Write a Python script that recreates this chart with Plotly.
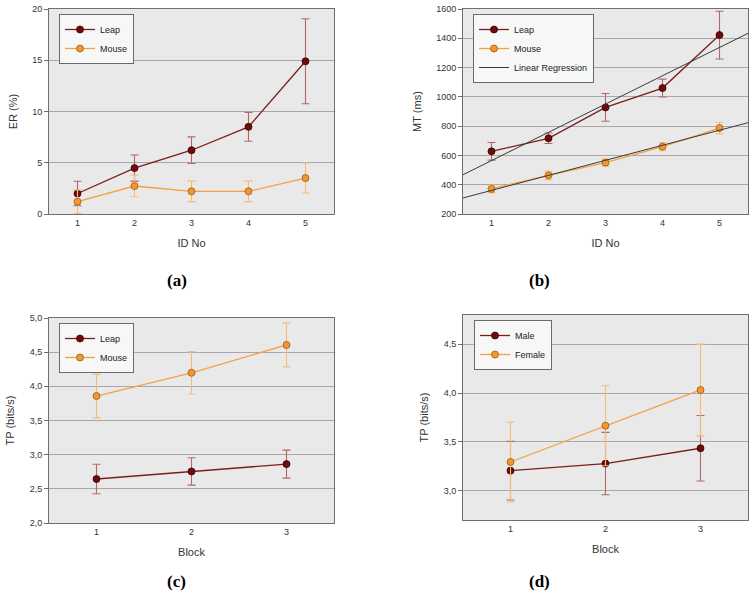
import numpy as np
import plotly.graph_objects as go

# ---------------- data ----------------
id_no = [1, 2, 3, 4, 5]
er_leap = [2.0, 4.48, 6.22, 8.5, 14.9]
er_leap_err = [1.2, 1.27, 1.3, 1.4, 4.15]
er_mouse = [1.2, 2.73, 2.21, 2.21, 3.51]
er_mouse_err = [1.15, 1.05, 1.0, 1.0, 1.46]

mt_leap = [628, 717, 928, 1060, 1422]
mt_leap_err = [60, 36, 95, 61, 163]
mt_mouse = [371, 464, 551, 660, 787]
mt_mouse_err = [25, 30, 25, 28, 40]

block = [1, 2, 3]
tp_leap = [2.644, 2.754, 2.862]
tp_leap_err = [0.215, 0.2, 0.205]
tp_mouse = [3.858, 4.198, 4.605]
tp_mouse_err = [0.32, 0.31, 0.32]

tp_male = [3.205, 3.278, 3.435]
tp_male_err = [0.30, 0.32, 0.335]
tp_female = [3.294, 3.666, 4.032]
tp_female_err = [0.41, 0.41, 0.47]

panel_labels = ["(a)", "(b)", "(c)", "(d)"]

# ---------------- style ----------------
DARK = "#6e0b0b"
DARK_LINE = "#7a1e1e"
DARK_ERR = "#b06868"
ORANGE = "#f3962e"
ORANGE_LINE = "#f4a040"
ORANGE_ERR = "#f6bb78"
ORANGE_EDGE = "#9a5a1a"
BG = "#e9e9e9"
GRID = "#a8a8a8"
BORDER = "#6e6e6e"
FONT = "Liberation Sans, Arial, sans-serif"

fig = go.Figure()


def series(x, y, err, name, color, line_color, err_color, edge, xa, ya, legend, showlegend=True):
    fig.add_trace(go.Scatter(
        x=x, y=y, name=name, mode="lines+markers",
        line=dict(color=line_color, width=1.3),
        marker=dict(color=color, size=7, line=dict(color=edge, width=0.8)),
        error_y=dict(type="data", array=err, visible=True, color=err_color,
                     thickness=1.1, width=4),
        xaxis=xa, yaxis=ya, legend=legend, showlegend=showlegend,
    ))


# (a)
series(id_no, er_leap, er_leap_err, "Leap", DARK, DARK_LINE, DARK_ERR, "#3a0000", "x", "y", "legend")
series(id_no, er_mouse, er_mouse_err, "Mouse", ORANGE, ORANGE_LINE, ORANGE_ERR, ORANGE_EDGE, "x", "y", "legend")

# (b)
series(id_no, mt_leap, mt_leap_err, "Leap", DARK, DARK_LINE, DARK_ERR, "#3a0000", "x2", "y2", "legend2")
series(id_no, mt_mouse, mt_mouse_err, "Mouse", ORANGE, ORANGE_LINE, ORANGE_ERR, ORANGE_EDGE, "x2", "y2", "legend2")
xr = np.array([0.5, 5.5])
for i, ys in enumerate([mt_leap, mt_mouse]):
    k, b = np.polyfit(id_no, ys, 1)
    fig.add_trace(go.Scatter(
        x=xr, y=k * xr + b, mode="lines", name="Linear Regression",
        line=dict(color="#3a3a3a", width=1), xaxis="x2", yaxis="y2",
        legend="legend2", showlegend=(i == 0),
    ))

# (c)
series(block, tp_leap, tp_leap_err, "Leap", DARK, DARK_LINE, DARK_ERR, "#3a0000", "x3", "y3", "legend3")
series(block, tp_mouse, tp_mouse_err, "Mouse", ORANGE, ORANGE_LINE, ORANGE_ERR, ORANGE_EDGE, "x3", "y3", "legend3")

# (d)
series(block, tp_male, tp_male_err, "Male", DARK, DARK_LINE, DARK_ERR, "#3a0000", "x4", "y4", "legend4")
series(block, tp_female, tp_female_err, "Female", ORANGE, ORANGE_LINE, ORANGE_ERR, ORANGE_EDGE, "x4", "y4", "legend4")

W, H = 755, 603


def px_x(p):
    return p / W


def px_y(p):
    return 1 - p / H


dom_xl = [px_x(49), px_x(334)]
dom_xr = [px_x(463), px_x(748)]
dom_yt = [px_y(214), px_y(9)]
dom_yb = [px_y(523), px_y(318)]
dom_yd = [px_y(520), px_y(315)]

tickfont = dict(family=FONT, size=9, color="#333333")
titlefont = dict(family=FONT, size=11, color="#333333")


def xaxis(dom, rng, title, anchor):
    return dict(domain=dom, range=rng, anchor=anchor, tickmode="array",
                tickvals=list(range(1, int(rng[1]) + 1)), showgrid=False,
                zeroline=False, showline=True, linecolor=BORDER, linewidth=1,
                mirror=True, ticks="", tickfont=tickfont, automargin=False,
                title=dict(text=title, font=titlefont, standoff=12))


def yaxis(dom, rng, dtick, tick0, title, anchor, fmt=None):
    d = dict(domain=dom, range=rng, anchor=anchor, dtick=dtick, tick0=tick0,
             showgrid=True, gridcolor=GRID, gridwidth=1, zeroline=False,
             showline=True, linecolor=BORDER, linewidth=1, mirror=True,
             ticks="outside", ticklen=4, tickcolor=BORDER, tickfont=tickfont,
             automargin=False, ticklabeloverflow="allow",
             title=dict(text=title, font=titlefont, standoff=12))
    if fmt:
        d["tickformat"] = fmt
    return d


legend_style = dict(bgcolor="#f7f7f7", bordercolor="#6a6a6a", borderwidth=1,
                    font=dict(family=FONT, size=9, color="#222222"),
                    xanchor="left", yanchor="top", itemwidth=30,
                    tracegroupgap=0)

fig.update_layout(
    width=W, height=H,
    margin=dict(l=0, r=0, t=0, b=0, autoexpand=False),
    paper_bgcolor="white",
    plot_bgcolor=BG,
    separators=",.",
    showlegend=True,
    xaxis=xaxis(dom_xl, [0.5, 5.5], "ID No", "y"),
    yaxis=yaxis(dom_yt, [0, 20], 5, 0, "ER (%)", "x"),
    xaxis2=xaxis(dom_xr, [0.5, 5.5], "ID No", "y2"),
    yaxis2=yaxis(dom_yt, [200, 1600], 200, 0, "MT (ms)", "x2"),
    xaxis3=xaxis(dom_xl, [0.5, 3.5], "Block", "y3"),
    yaxis3=yaxis(dom_yb, [2.0, 5.0], 0.5, 0, "TP (bits/s)", "x3", ".1f"),
    xaxis4=xaxis(dom_xr, [0.5, 3.5], "Block", "y4"),
    yaxis4=yaxis(dom_yd, [2.7, 4.8], 0.5, 3.0, "TP (bits/s)", "x4", ".1f"),
    legend=dict(legend_style, x=px_x(59), y=px_y(14)),
    legend2=dict(legend_style, x=px_x(473), y=px_y(14)),
    legend3=dict(legend_style, x=px_x(59), y=px_y(323)),
    legend4=dict(legend_style, x=px_x(474), y=px_y(320)),
)

label_pos = [(165, 280), (552, 280), (165, 593), (552, 593)]
for txt, (px, py) in zip(panel_labels, label_pos):
    fig.add_annotation(text="<b>" + txt + "</b>", x=px_x(px), y=px_y(py),
                       xref="paper", yref="paper", showarrow=False,
                       font=dict(family="Liberation Serif, Times New Roman, serif",
                                 size=17, color="#000000"))

# remove the browser's default 8px page margin so the figure fills the window
fig.write_html("out.html",
               config={"displayModeBar": False},
               post_script="document.body.style.margin='0';"
                           "document.body.style.overflow='hidden';")
